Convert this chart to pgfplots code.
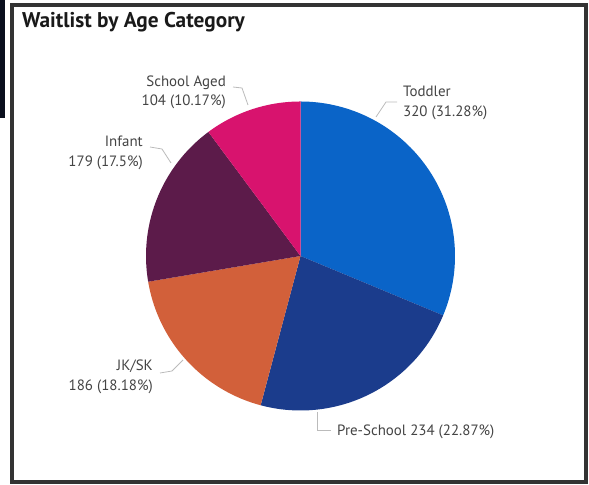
\documentclass[border=0pt]{standalone}
\usepackage{pgfplots}
\usepackage{pgfplotstable}
\pgfplotsset{compat=1.18}
\usepackage{fontspec}
\setmainfont{PT Sans}
\definecolor{slice0}{HTML}{0A64C8}
\definecolor{slice1}{HTML}{1B3C8C}
\definecolor{slice2}{HTML}{D2603A}
\definecolor{slice3}{HTML}{5C1B4A}
\definecolor{slice4}{HTML}{D8136E}
\definecolor{lbl}{HTML}{444444}
\definecolor{lead}{HTML}{BBBBBB}
\definecolor{frame}{HTML}{333333}
\definecolor{edgebar}{HTML}{0A0F1E}
\pgfplotstableread{
label value
Toddler 320
Pre-School 234
JK/SK 186
Infant 179
SchoolAged 104
}\piedata
\begin{document}
\begin{tikzpicture}[x=1bp,y=1bp]
\fill[white] (0,0) rectangle (589,485);
\fill[edgebar] (0,367) rectangle (5,485);
\draw[frame,line width=4bp] (12,2.5) rectangle (586,480);
\node[anchor=base west,inner sep=0,font=\fontsize{21.4}{24}\selectfont\bfseries,text=black!90] at (22,457) {Waitlist by Age Category};
\begin{axis}[at={(0,0)},anchor=south west,x=154.5bp,y=154.5bp,
  xmin=-1.94498,xmax=1.86731,ymin=-1.48220,ymax=1.65696,hide axis,clip=false]
\def\cum{0}
\pgfplotsforeachungrouped \i in {0,...,4}{%
  \pgfplotstablegetelem{\i}{value}\of{\piedata}\let\v\pgfplotsretval
  \pgfmathsetmacro{\a}{90-(\cum/1023)*360}%
  \pgfmathsetmacro{\b}{90-((\cum+\v)/1023)*360}%
  \pgfmathsetmacro{\cum}{\cum+\v}%
  \edef\temp{\noexpand\fill[slice\i] (axis cs:0,0) \noexpand\foreach \noexpand\t in {0,...,72} { -- (axis cs:{cos(\a+(\b-\a)*\noexpand\t/72)},{sin(\a+(\b-\a)*\noexpand\t/72)}) } -- cycle;}%
  \temp
}
\end{axis}
\begin{scope}[lead,line width=0.8bp]
\draw (233,398) -- (242,397) -- (248,380);
\draw (397,383) -- (386,383) -- (376,368);
\draw (150,338) -- (162,336) -- (171,322);
\draw (160,112) -- (172,114) -- (183,125);
\draw (317,73) -- (317,55) -- (331,55);
\end{scope}
\begin{scope}[every node/.style={inner sep=0,text=lbl,font=\fontsize{15}{19.5}\selectfont}]
\node[anchor=east,align=right] at (226,392.5) {School Aged\\104 (10.17\%)};
\node[anchor=west,align=left] at (403,382) {Toddler\\320 (31.28\%)};
\node[anchor=east,align=right] at (143,332) {Infant\\179 (17.5\%)};
\node[anchor=east,align=right] at (153,108) {JK/SK\\186 (18.18\%)};
\node[anchor=west] at (337,53) {Pre-School 234 (22.87\%)};
\end{scope}
\pgfresetboundingbox
\path[use as bounding box] (0,0) rectangle (589,485);
\end{tikzpicture}
\end{document}
